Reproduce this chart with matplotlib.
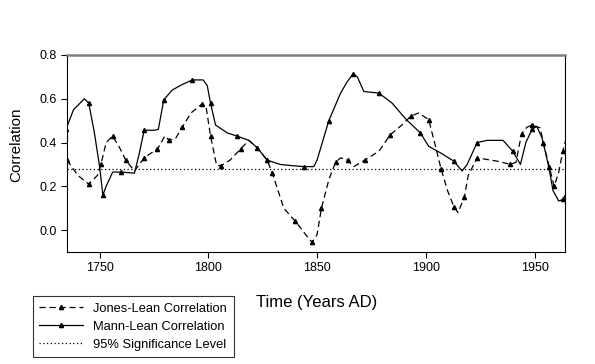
import numpy as np
import matplotlib.pyplot as plt

plt.rcParams['font.family'] = ['Liberation Sans', 'DejaVu Sans']

# Jones-Lean correlation (dashed, triangles)
jones_year = [1735, 1740, 1745, 1749, 1750.6, 1753, 1756, 1759, 1762, 1766,
              1770.5, 1773.4, 1776.6, 1780, 1782, 1785, 1788, 1792, 1797.2, 1799,
              1801, 1803.8, 1806, 1810, 1814.8, 1818.6, 1822.5, 1827, 1829.4, 1834.7,
              1840, 1844.7, 1847.7, 1850, 1852, 1855.4, 1858.5, 1860.8, 1864, 1866.9,
              1872, 1878.4, 1883.7, 1889, 1893, 1896.7, 1901.3, 1904, 1907, 1910,
              1912.9, 1914.8, 1917.7, 1919.5, 1923.6, 1932.8, 1938.9, 1941.5, 1944,
              1946.5, 1948.8, 1952.6, 1954, 1956.5, 1959, 1961, 1963, 1965]
jones_val = [0.32, 0.25, 0.21, 0.25, 0.30, 0.40, 0.43, 0.38, 0.32, 0.27,
             0.33, 0.35, 0.37, 0.43, 0.41, 0.42, 0.47, 0.535, 0.577, 0.56,
             0.43, 0.295, 0.295, 0.32, 0.37, 0.41, 0.376, 0.32, 0.26, 0.10,
             0.04, -0.02, -0.056, -0.02, 0.10, 0.23, 0.31, 0.33, 0.32, 0.29,
             0.32, 0.36, 0.436, 0.48, 0.52, 0.535, 0.505, 0.40, 0.28, 0.18,
             0.107, 0.08, 0.15, 0.25, 0.33, 0.315, 0.30, 0.31, 0.44,
             0.47, 0.48, 0.467, 0.40, 0.30, 0.20, 0.26, 0.36, 0.44]

# Mann-Lean correlation (solid, triangles)
mann_year = [1734.5, 1738, 1743, 1745, 1747.5, 1750, 1751.5, 1753, 1756, 1760,
             1766, 1768, 1770.5, 1775, 1777, 1779.5, 1783.4, 1788, 1792.6, 1797.6,
             1799.5, 1801, 1803.3, 1808.7, 1813, 1818.6, 1822.5, 1827, 1833, 1837.8,
             1843.9, 1848.5, 1850, 1855.4, 1860.8, 1864, 1866.6, 1868.5, 1871.5, 1878.4,
             1884.5, 1891, 1897.5, 1901.3, 1906.7, 1912.9, 1916.7, 1919, 1923.6, 1928.2,
             1935.5, 1940, 1943.5, 1946, 1948.8, 1951, 1953.5, 1956.5, 1958.5, 1961.1,
             1963, 1965]
mann_val = [0.46, 0.55, 0.60, 0.58, 0.45, 0.29, 0.16, 0.20, 0.265, 0.265,
            0.26, 0.34, 0.456, 0.456, 0.46, 0.595, 0.64, 0.665, 0.686, 0.686,
            0.66, 0.58, 0.48, 0.444, 0.43, 0.41, 0.376, 0.32, 0.30, 0.295,
            0.29, 0.29, 0.32, 0.50, 0.626, 0.68, 0.714, 0.70, 0.633, 0.626,
            0.58, 0.505, 0.444, 0.383, 0.353, 0.315, 0.27, 0.30, 0.40, 0.41,
            0.41, 0.36, 0.30, 0.40, 0.46, 0.474, 0.42, 0.29, 0.18, 0.133,
            0.14, 0.174]

sig_level = 0.28
xlim = (1735, 1964)

fig = plt.figure(figsize=(5.95, 3.64), dpi=100)
ax = fig.add_axes([0.1126, 0.3077, 0.837, 0.5413])

ax.plot(jones_year, jones_val, color='black', lw=0.9, ls=(0, (5, 3)),
        marker='^', ms=3, markevery=2, label='Jones-Lean Correlation')
ax.plot(mann_year, mann_val, color='black', lw=0.9, ls='-',
        marker='^', ms=3, markevery=3, label='Mann-Lean Correlation')
ax.plot(xlim, [sig_level, sig_level], color='black', lw=0.9, ls=(0, (1, 2)),
        label='95% Significance Level')

ax.set_xlim(*xlim)
ax.set_ylim(-0.1, 0.8)
ax.set_xticks([1750, 1800, 1850, 1900, 1950])
ax.set_yticks([0.0, 0.2, 0.4, 0.6, 0.8])
ax.yaxis.set_major_formatter(plt.FormatStrFormatter('%.1f'))
ax.tick_params(direction='out', length=4, width=0.8, labelsize=9, colors='black')

ax.spines['top'].set_color('0.5')
ax.spines['top'].set_linewidth(1.8)
for s in ['left', 'bottom', 'right']:
    ax.spines[s].set_linewidth(0.8)

fig.text(16 / 595, 1 - 145 / 364, 'Correlation', fontsize=11, rotation=90,
         ha='center', va='center')

fig.text(256 / 595, 1 - 303 / 364, 'Time (Years AD)', fontsize=12,
         ha='left', va='center')

leg = fig.legend(loc='lower left', bbox_to_anchor=(0.055, 0.019), fontsize=9.3,
                 frameon=True, fancybox=False, edgecolor='black',
                 handlelength=3.4, handletextpad=0.8, borderpad=0.5,
                 labelspacing=0.45, borderaxespad=0)
leg.get_frame().set_linewidth(0.8)

fig.savefig('out.png', dpi=100)
